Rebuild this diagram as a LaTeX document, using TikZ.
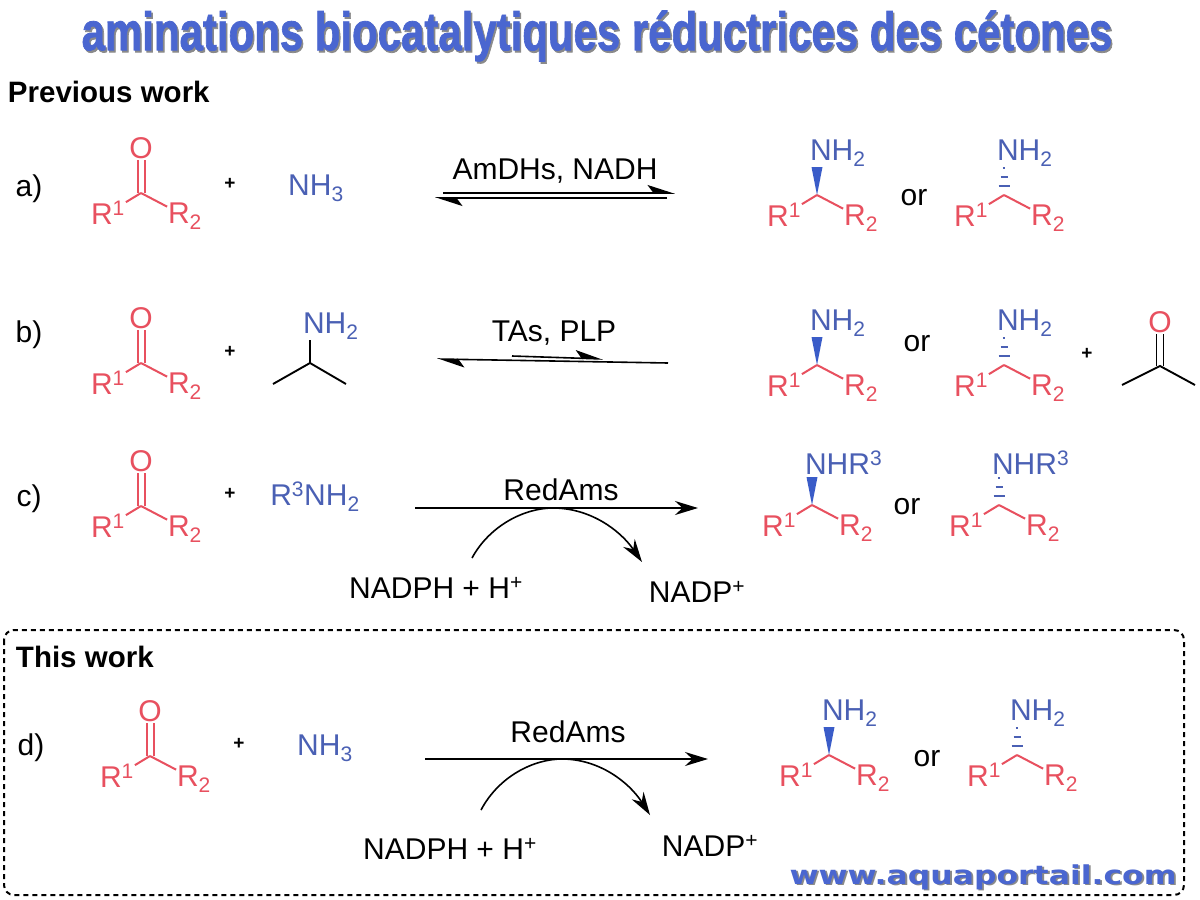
\documentclass[tikz,border=0pt]{standalone}
\usepackage{fontspec}
\setmainfont{Liberation Sans}
\newfontfamily\titlefont[FakeBold=1.5]{Liberation Sans Bold}
\newfontfamily\urlfont{DejaVu Sans Bold}
\usetikzlibrary{arrows.meta,calc}
\definecolor{ketred}{HTML}{E8505F}
\definecolor{amblue}{HTML}{4A60B4}
\definecolor{wedgeblue}{HTML}{3A5CC8}
\definecolor{titleblue}{HTML}{4A66D0}
\definecolor{shadowgrey}{HTML}{8A8A8A}
\tikzset{
	lab/.style={inner sep=1pt,outer sep=0,yshift=-2pt,font=\fontsize{30}{30}\selectfont},
	redlab/.style={lab,text=ketred},
	bluelab/.style={lab,text=amblue},
	plus/.style={inner sep=0,outer sep=0,font=\bfseries\fontsize{19}{19}\selectfont},
	head/.style={inner sep=0,outer sep=0,anchor=west,font=\bfseries\fontsize{29.5}{29.5}\selectfont},
	redbond/.style={draw=ketred,line width=2pt},
	blackbond/.style={draw=black,line width=1.9pt},
	rxn/.style={draw=black,line width=1.6pt},
	tip/.style={-{Stealth[length=23pt,width=14pt]}},
	halftip/.style={-{Stealth[length=25pt,width=16pt,inset=6pt,harpoon]}},
}
\newcommand\shadowed[2]{\rlap{\raisebox{-#1}{\kern#1\textcolor{shadowgrey}{#2}}}#2}
% R1 and R2 groups around a centre (name, x, y)
\newcommand\rgroups[3]{
	\coordinate (#1-C) at (#2,#3);
	\node[redlab] (#1-R1) at (#2-33,#3+18) {R\textsuperscript{1}};
	\node[redlab] (#1-R2) at (#2+44,#3+21) {R\textsubscript{2}};
	\draw[redbond] (#1-C) -- (#1-R1);
	\draw[redbond] (#1-C) -- (#1-R2);
}
% ketone
\newcommand\ketone[3]{
	\rgroups{#1}{#2}{#3}
	\node[redlab] (#1-O) at (#2,#3-47) {O};
	\draw[redbond] ([xshift=-3.5pt]#1-C) -- ([xshift=-3.5pt]#1-C |- #1-O.south);
	\draw[redbond] ([xshift=3.5pt]#1-C) -- ([xshift=3.5pt]#1-C |- #1-O.south);
}
% wedge bond up to the amine (name, x, y, text)
\newcommand\wedged[4]{
	\rgroups{#1}{#2}{#3}
	\node[bluelab,anchor=west] (#1-N) at (#2-8,#3-44) {#4};
	\fill[wedgeblue] (#1-C) -- ($(#1-C)+(-5.5,-28)$) -- ($(#1-C)+(5.5,-28)$) -- cycle;
}
% hashed bond up to the amine (name, x, y, text)
\newcommand\hashed[4]{
	\rgroups{#1}{#2}{#3}
	\node[bluelab,anchor=west] (#1-N) at (#2-8,#3-44) {#4};
	\draw[amblue,line width=1.6pt] ($(#1-C)+(-5.5,-9)$) -- ($(#1-C)+(5.5,-9)$);
	\draw[amblue,line width=1.6pt] ($(#1-C)+(-3.5,-18)$) -- ($(#1-C)+(3.5,-18)$);
	\draw[amblue,line width=1.6pt] ($(#1-C)+(-1.2,-27)$) -- ($(#1-C)+(1.2,-27)$);
}
\begin{document}
\begin{tikzpicture}[x=1pt,y=-1pt]
	\useasboundingbox[fill=white] (0,0) rectangle (1200,900);

	\node[inner sep=0,text=titleblue,font=\titlefont\fontsize{54}{54}\selectfont] (title) at (597,37) {\scalebox{0.777}[1]{\shadowed{2pt}{aminations biocatalytiques réductrices des cétones}}};
	\node[head] (prev) at (8,92) {Previous work};

	% a)
	\node[lab] (a) at (29,187) {a)};
	\ketone{ka}{141}{193}
	\node[plus] (plusa) at (230,184) {+};
	\node[bluelab] (nh3a) at (316,186) {NH\textsubscript{3}};
	\node[lab] (enza) at (555,169) {AmDHs, NADH};
	\coordinate (a1) at (443,193);
	\coordinate (a2) at (675,193);
	\coordinate (a3) at (667,198);
	\coordinate (a4) at (435,198);
	\draw[rxn,halftip] (a1) -- (a2);
	\draw[rxn,halftip] (a3) -- (a4);
	\wedged{pa1}{817}{195}{NH\textsubscript{2}}
	\node[lab] (ora) at (914,196) {or};
	\hashed{pa2}{1004}{195}{NH\textsubscript{2}}

	% b)
	\node[lab] (b) at (29,333) {b)};
	\ketone{kb}{141}{363}
	\node[plus] (plusb) at (230,352) {+};
	\coordinate (ipr) at (310,363);
	\coordinate (ipr1) at (273,384);
	\coordinate (ipr2) at (346,384);
	\node[bluelab,anchor=west] (nh2b) at (302,324) {NH\textsubscript{2}};
	\draw[blackbond] (ipr1) -- (ipr) -- (ipr2);
	\draw[blackbond] (ipr) -- (ipr |- nh2b.south);
	\node[lab] (enzb) at (554,331) {TAs, PLP};
	\coordinate (b1) at (668,363);
	\coordinate (b2) at (437,359);
	\coordinate (b3) at (512,356);
	\coordinate (b4) at (603,359);
	\draw[rxn,halftip] (b1) -- (b2);
	\draw[rxn,halftip] (b3) -- (b4);
	\wedged{pb1}{817}{365}{NH\textsubscript{2}}
	\node[lab] (orb) at (917,342) {or};
	\hashed{pb2}{1004}{365}{NH\textsubscript{2}}
	\node[plus] (plusb2) at (1087,354) {+};
	\node[redlab] (oac) at (1160,320) {O};
	\coordinate (ac) at (1160,366);
	\coordinate (ac1) at (1122,385);
	\coordinate (ac2) at (1195,385);
	\draw[blackbond] (ac1) -- (ac) -- (ac2);
	\draw[blackbond] ([xshift=-3.5pt]ac) -- ([xshift=-3.5pt]ac |- oac.south);
	\draw[blackbond] ([xshift=3.5pt]ac) -- ([xshift=3.5pt]ac |- oac.south);

	% c)
	\node[lab] (c) at (29,497) {c)};
	\ketone{kc}{141}{506}
	\node[plus] (plusc) at (230,494) {+};
	\node[bluelab] (r3nh2) at (315,495) {R\textsuperscript{3}NH\textsubscript{2}};
	\node[lab] (enzc) at (561,488) {RedAms};
	\coordinate (c1) at (415,508);
	\coordinate (c2) at (698,508);
	\draw[rxn,tip] (c1) -- (c2);
	\node[lab] (nadphc) at (436,586) {NADPH + H\textsuperscript{+}};
	\node[lab] (nadpc) at (697,590) {NADP\textsuperscript{+}};
	\coordinate (c3) at (472,558);
	\coordinate (c4) at (553,508);
	\coordinate (c5) at (642,562);
	\draw[rxn,tip] (c3) .. controls (490,525) and (525,508) .. (c4) .. controls (590,508) and (620,530) .. (c5);
	\wedged{pc1}{812}{505}{NHR\textsuperscript{3}}
	\node[lab] (orc) at (907,505) {or};
	\hashed{pc2}{999}{505}{NHR\textsuperscript{3}}

	% d)
	\draw[line width=2pt,dash pattern=on 5pt off 4pt,rounded corners=10pt] (4,630) rectangle (1184,895);
	\node[head] (this) at (16,657) {This work};
	\node[lab] (d) at (31,746) {d)};
	\ketone{kd}{150}{756}
	\node[plus] (plusd) at (239,744) {+};
	\node[bluelab] (nh3d) at (325,746) {NH\textsubscript{3}};
	\node[lab] (enzd) at (568,730) {RedAms};
	\coordinate (d1) at (425,759);
	\coordinate (d2) at (708,759);
	\draw[rxn,tip] (d1) -- (d2);
	\node[lab] (nadphd) at (450,847) {NADPH + H\textsuperscript{+}};
	\node[lab] (nadpd) at (710,844) {NADP\textsuperscript{+}};
	\coordinate (d3) at (481,810);
	\coordinate (d4) at (562,759);
	\coordinate (d5) at (650,815);
	\draw[rxn,tip] (d3) .. controls (499,776) and (534,759) .. (d4) .. controls (599,759) and (629,782) .. (d5);
	\wedged{pd1}{829}{755}{NH\textsubscript{2}}
	\node[lab] (ord) at (927,757) {or};
	\hashed{pd2}{1017}{755}{NH\textsubscript{2}}

	\node[inner sep=0,text=titleblue,font=\urlfont\fontsize{26}{26}\selectfont] (url) at (983,878) {\scalebox{1.21}[1]{\shadowed{1.5pt}{www.aquaportail.com}}};
\end{tikzpicture}
\end{document}
